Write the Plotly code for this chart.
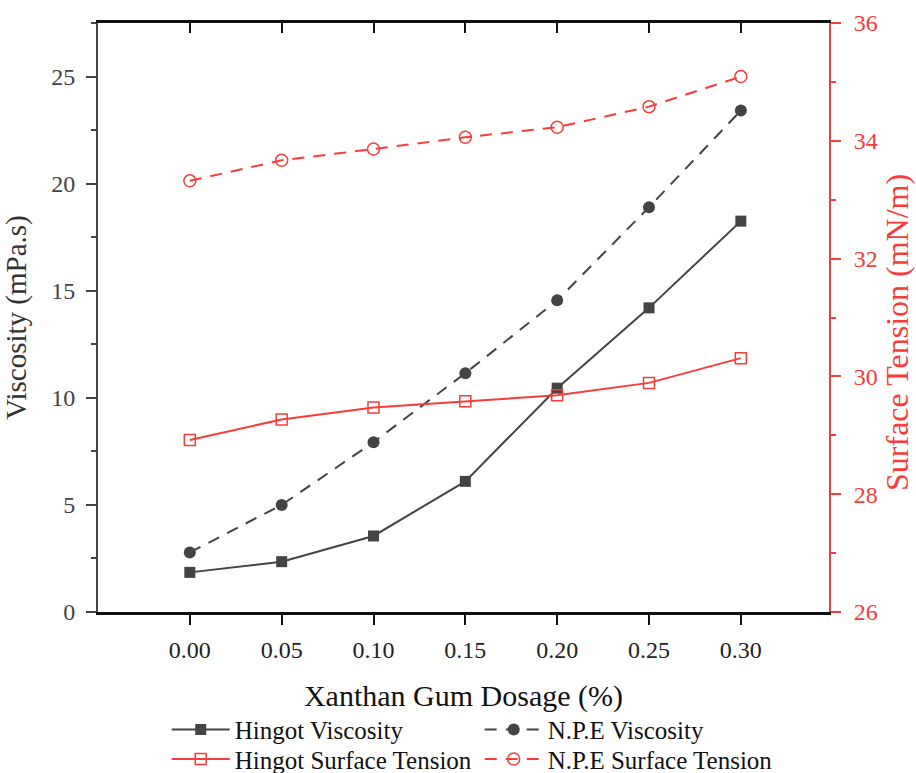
import plotly.graph_objects as go

dosage = [0.00, 0.05, 0.10, 0.15, 0.20, 0.25, 0.30]
dosage_labels = ["0.00", "0.05", "0.10", "0.15", "0.20", "0.25", "0.30"]

hingot_viscosity = [1.85, 2.35, 3.55, 6.1, 10.45, 14.2, 18.25]
npe_viscosity = [2.78, 5.0, 7.93, 11.15, 14.55, 18.9, 23.41]
hingot_surface_tension = [28.92, 29.27, 29.47, 29.58, 29.68, 29.89, 30.31]
npe_surface_tension = [33.32, 33.67, 33.86, 34.06, 34.23, 34.58, 35.09]

DARK = "#444444"
RED = "#f83c3c"
FONT = '"Liberation Serif", "Times New Roman", Times, serif'

fig = go.Figure()

fig.add_trace(go.Scatter(
    x=dosage, y=hingot_viscosity, name="Hingot Viscosity", mode="lines+markers",
    line=dict(color=DARK, width=2), marker=dict(symbol="square", size=11, color=DARK),
    yaxis="y", legend="legend"))
fig.add_trace(go.Scatter(
    x=dosage, y=npe_viscosity, name="N.P.E Viscosity", mode="lines+markers",
    line=dict(color=DARK, width=2, dash="12px,9px"),
    marker=dict(symbol="circle", size=12, color=DARK),
    yaxis="y", legend="legend"))
fig.add_trace(go.Scatter(
    x=dosage, y=hingot_surface_tension, name="Hingot Surface Tension", mode="lines+markers",
    line=dict(color=RED, width=2),
    marker=dict(symbol="square-open", size=11, color=RED, line=dict(width=1.5)),
    yaxis="y2", legend="legend2"))
fig.add_trace(go.Scatter(
    x=dosage, y=npe_surface_tension, name="N.P.E Surface Tension", mode="lines+markers",
    line=dict(color=RED, width=2, dash="12px,9px"),
    marker=dict(symbol="circle-open", size=12, color=RED, line=dict(width=1.5)),
    yaxis="y2", legend="legend2"))
# invisible trace to render the mirrored top axis
fig.add_trace(go.Scatter(x=[None], y=[None], xaxis="x2", yaxis="y",
                         showlegend=False, hoverinfo="skip"))

xrange = [-0.05, 0.348]
legend_common = dict(orientation="h", xanchor="left", yanchor="middle",
                     font=dict(family=FONT, size=25, color="#111111"),
                     bgcolor="rgba(0,0,0,0)", entrywidth=240, itemwidth=58,
                     tracegroupgap=0)

fig.update_layout(
    width=916, height=773,
    margin=dict(l=98, r=87, t=23, b=161, autoexpand=False),
    paper_bgcolor="white", plot_bgcolor="white",
    font=dict(family=FONT, size=24, color="#222222"),
    showlegend=True,
    xaxis=dict(
        range=xrange, tickvals=dosage, ticktext=dosage_labels, automargin=False,
        ticks="outside", ticklen=10, tickwidth=2, tickcolor="#111111",
        showline=True, linecolor="#111111", linewidth=2.5,
        showgrid=False, zeroline=False, ticklabelstandoff=4,
        tickfont=dict(family=FONT, size=24, color="#222222"),
        title=dict(text="Xanthan Gum Dosage (%)", standoff=24,
                   font=dict(family=FONT, size=30, color="#111111")),
    ),
    xaxis2=dict(
        range=xrange, tickvals=dosage, overlaying="x", side="top", anchor="y",
        ticks="inside", ticklen=10, tickwidth=2, tickcolor="#111111", automargin=False,
        showticklabels=False, showline=True, linecolor="#111111", linewidth=2.5,
        showgrid=False, zeroline=False,
    ),
    yaxis=dict(
        range=[0, 27.5], tick0=0, dtick=5, automargin=False,
        ticks="outside", ticklen=10, tickwidth=2, tickcolor=DARK,
        minor=dict(dtick=2.5, ticks="outside", ticklen=5, tickwidth=2, tickcolor=DARK),
        showline=True, linecolor=DARK, linewidth=2,
        showgrid=False, zeroline=False, ticklabelstandoff=6,
        tickfont=dict(family=FONT, size=24, color=DARK),
        title=dict(text="Viscosity (mPa.s)", standoff=16,
                   font=dict(family=FONT, size=29, color="#333333")),
    ),
    yaxis2=dict(
        range=[26, 36], tick0=26, dtick=2, overlaying="y", side="right", anchor="x",
        automargin=False,
        ticks="outside", ticklen=10, tickwidth=2, tickcolor=RED,
        minor=dict(dtick=1, ticks="outside", ticklen=5, tickwidth=2, tickcolor=RED),
        showline=True, linecolor=RED, linewidth=2,
        showgrid=False, zeroline=False, ticklabelstandoff=8,
        tickfont=dict(family=FONT, size=24, color=RED),
    ),
    annotations=[dict(
        text="Surface Tension (mN/m)", textangle=-90, showarrow=False,
        xref="paper", yref="paper", x=1.094, y=0.475,
        xanchor="center", yanchor="middle",
        font=dict(family=FONT, size=32, color=RED),
    )],
    legend=dict(x=0.094, y=-0.2, **legend_common),
    legend2=dict(x=0.094, y=-0.25, **legend_common),
)

fig.write_html("out.html")
